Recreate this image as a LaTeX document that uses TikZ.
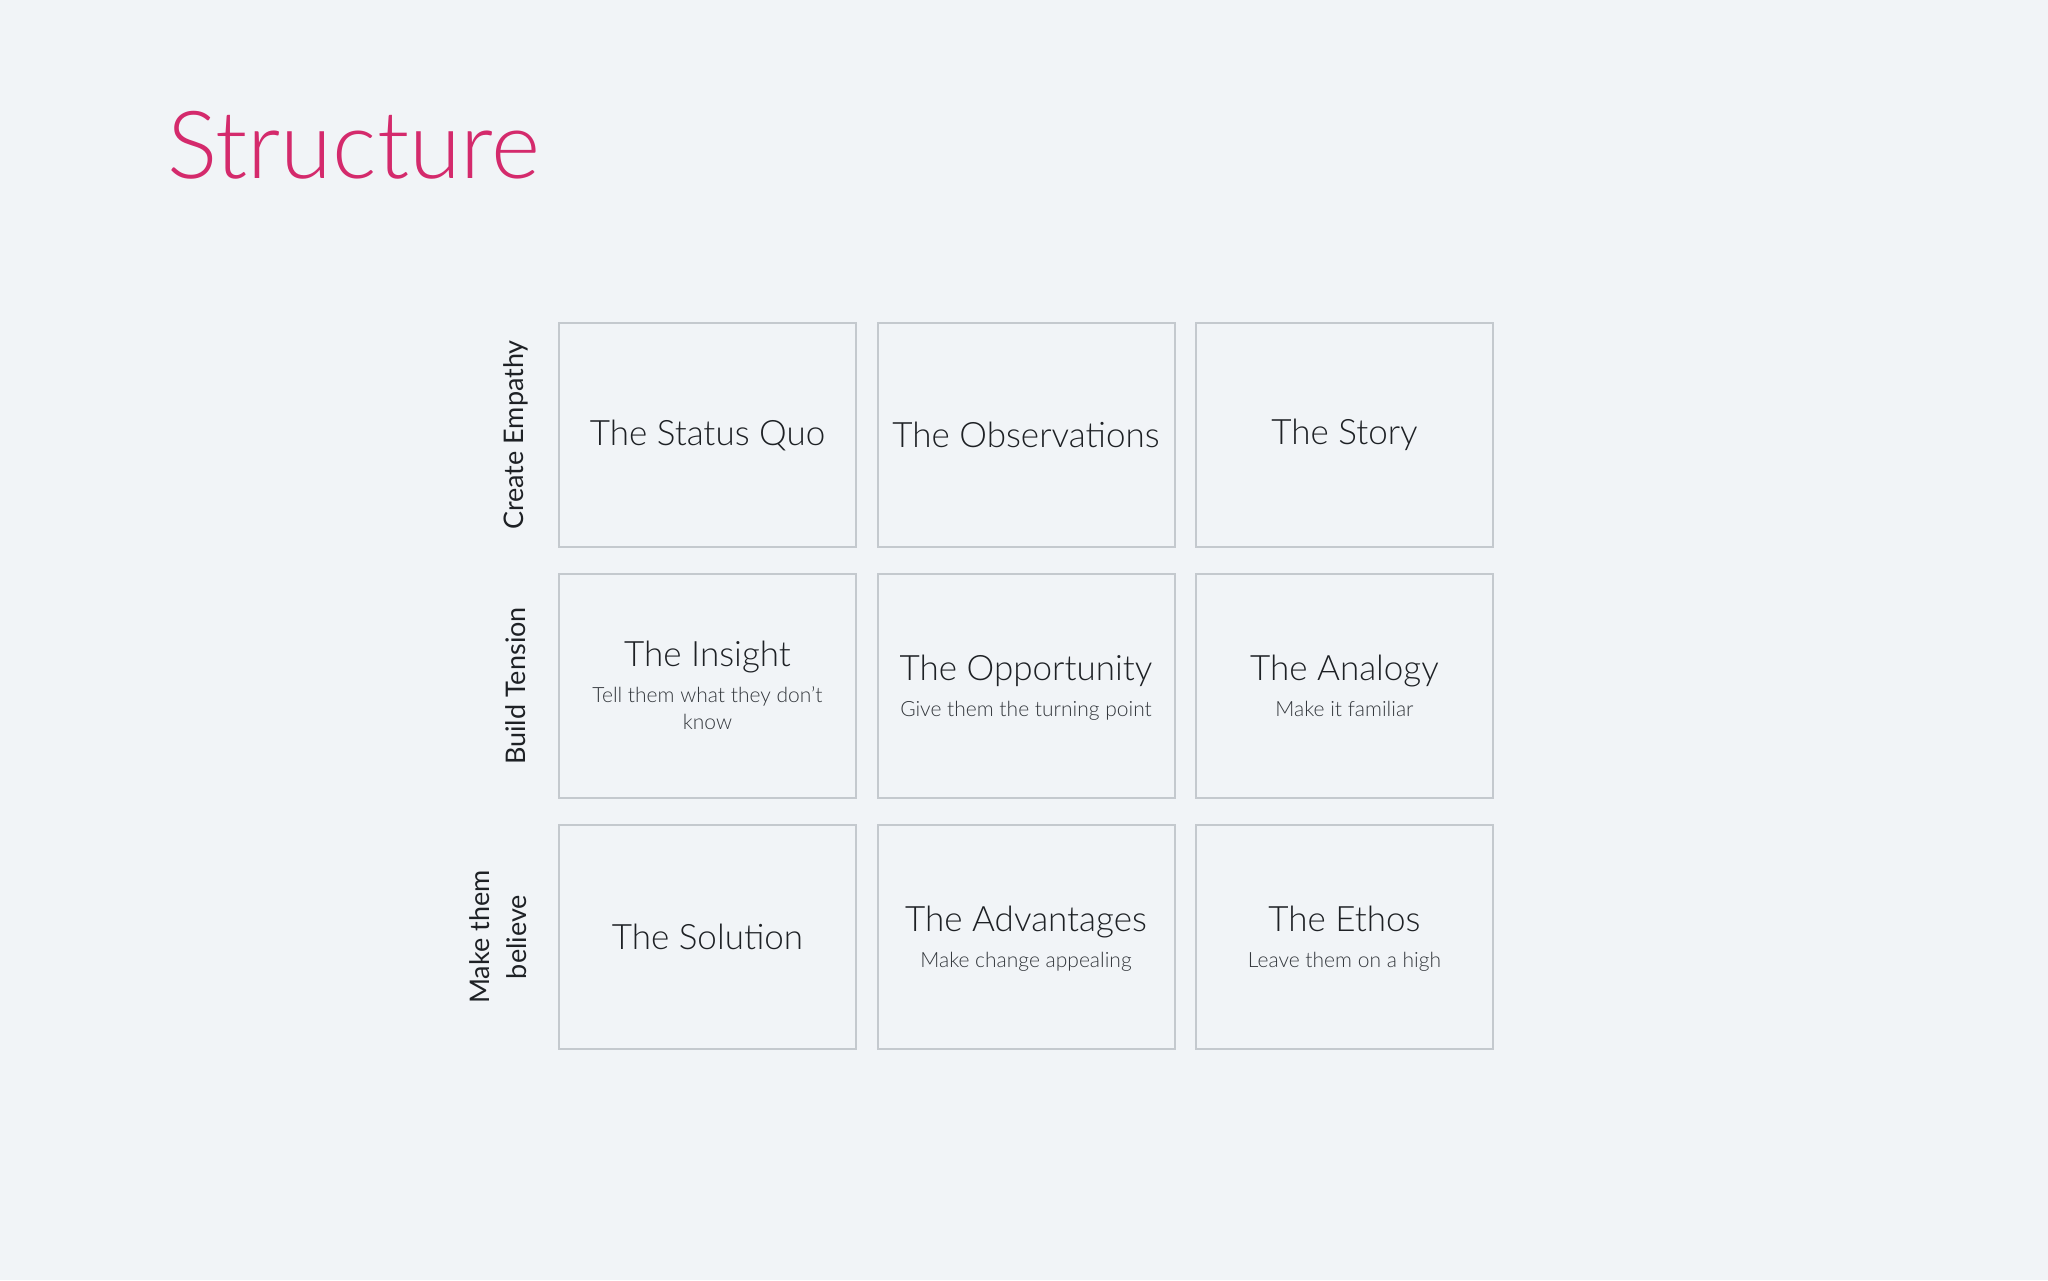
\documentclass[tikz,border=0pt]{standalone}
\usepackage{fontspec}
\setmainfont{Lato}[UprightFont=* Light]
\newfontfamily\sidefont{Lato}
\usetikzlibrary{positioning}

\definecolor{bgcol}{HTML}{F1F4F7}
\definecolor{framecol}{HTML}{C4C9CE}
\definecolor{inkcol}{HTML}{1E2125}
\definecolor{subcol}{HTML}{33373C}
\definecolor{pinkcol}{HTML}{D42A6C}

\begin{document}
\begin{tikzpicture}[x=1pt,y=-1pt,
		cell/.style={draw=framecol, line width=2pt, minimum width=297pt, minimum height=224pt, inner sep=0pt},
		ttl/.style={text=inkcol, inner sep=0pt, font=\fontsize{35}{40}\selectfont},
		sub/.style={text=subcol, inner sep=0pt, align=center, font=\fontsize{21}{27}\selectfont},
		side/.style={text=inkcol, inner sep=0pt, rotate=90, align=center, font=\sidefont\fontsize{27}{37}\selectfont}]
	\fill [bgcol] (0,0) rectangle (2048,1280);
	\node [anchor=base west, inner sep=0pt, text=pinkcol, font=\fontsize{94}{110}\selectfont] (title) at (167,178) {Structure};
	% row labels
	\node [side] (lab1) at (516,435) {Create Empathy};
	\node [side] (lab2) at (516,686) {Build Tension};
	\node [side] (lab3) at (498,937) {Make them\\believe};
	% boxes
	\node [cell] (b11) at (707.5,435) {};
	\node [cell] (b12) at (1026,435) {};
	\node [cell] (b13) at (1344.5,435) {};
	\node [cell] (b21) at (707.5,686) {};
	\node [cell] (b22) at (1026,686) {};
	\node [cell] (b23) at (1344.5,686) {};
	\node [cell] (b31) at (707.5,937) {};
	\node [cell] (b32) at (1026,937) {};
	\node [cell] (b33) at (1344.5,937) {};
	% texts
	\node [ttl] (t11) at (b11.center) {The Status Quo};
	\node [ttl] (t12) at (b12.center) {The Observations};
	\node [ttl] (t13) at (b13.center) {The Story};
	\node [ttl, anchor=base] (t21) at (707.5,666) {The Insight};
	\node [sub, anchor=base] (s21) at (707.5,729) {Tell them what they don't\\know};
	\node [ttl, anchor=base] (t22) at (1026,680) {The Opportunity};
	\node [sub, anchor=base] (s22) at (1026,716) {Give them the turning point};
	\node [ttl, anchor=base] (t23) at (1344.5,680) {The Analogy};
	\node [sub, anchor=base] (s23) at (1344.5,716) {Make it familiar};
	\node [ttl] (t31) at (b31.center) {The Solution};
	\node [ttl, anchor=base] (t32) at (1026,931) {The Advantages};
	\node [sub, anchor=base] (s32) at (1026,967) {Make change appealing};
	\node [ttl, anchor=base] (t33) at (1344.5,931) {The Ethos};
	\node [sub, anchor=base] (s33) at (1344.5,967) {Leave them on a high};
\end{tikzpicture}
\end{document}
